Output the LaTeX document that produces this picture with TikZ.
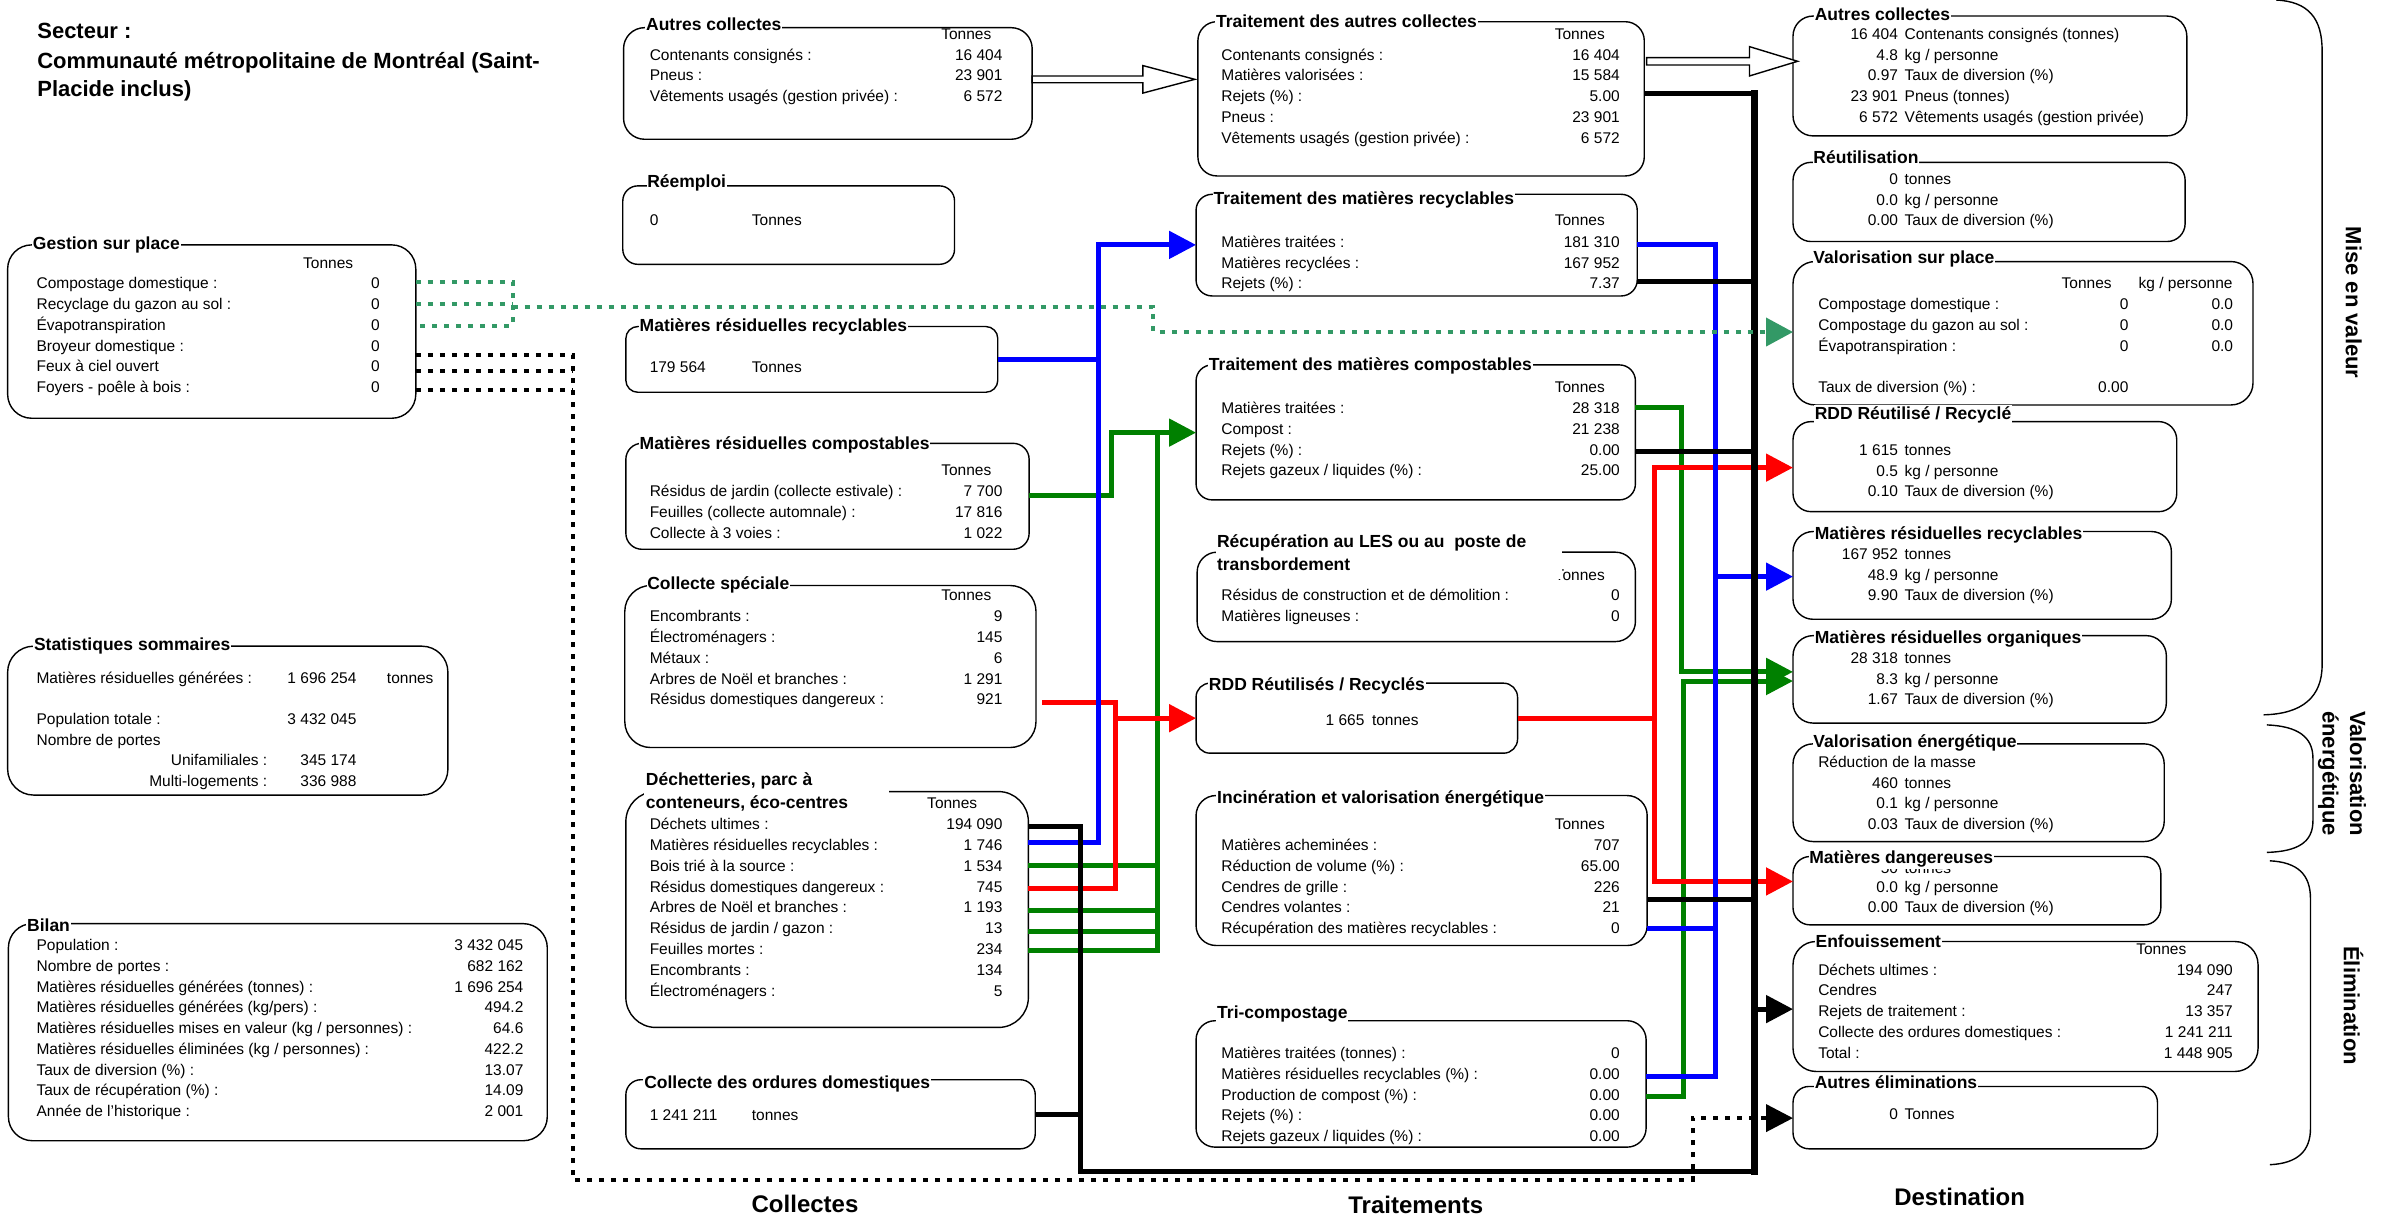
\documentclass[tikz,border=0pt]{standalone}
\usepackage{fontspec}
\setmainfont{Liberation Sans}
\usetikzlibrary{arrows.meta,calc,fit}
\newcommand{\bodyfont}{\fontsize{15.5}{19}\selectfont}
\newcommand{\ttlfont}{\fontsize{17.5}{22}\selectfont\bfseries}
\newcommand{\sidefont}{\fontsize{22}{27.5}\selectfont\bfseries}
\newcommand{\colfont}{\fontsize{24}{28}\selectfont\bfseries}
\newcommand{\headfont}{\fontsize{22}{29}\selectfont\bfseries}
\definecolor{cblue}{RGB}{0,0,255}
\definecolor{cgreen}{RGB}{0,128,0}
\definecolor{cred}{RGB}{255,0,0}
\definecolor{cdot}{RGB}{51,153,102}
\newcommand{\rw}[6]{\node[tl] (#1l) at (#2,#4) {#5}; \node[tr] (#1v) at (#3,#4) {#6};}
\newcommand{\drow}[4]{\node[tr] (#1v) at (1241.7,#2) {#3}; \node[tl] (#1l) at (1245.8,#2) {#4};}
\begin{document}
\begin{tikzpicture}[x=1.5287pt,y=-1.5287pt,
 bxs/.style={draw=black, line width=1.4pt, inner sep=0pt, outer sep=0pt},
 tl/.style={anchor=mid west, inner sep=0pt, font=\bodyfont},
 tr/.style={anchor=mid east, inner sep=0pt, font=\bodyfont},
 tc/.style={anchor=mid, inner sep=0pt, font=\bodyfont},
 ttl/.style={anchor=mid west, inner xsep=0.8pt, inner ysep=1.5pt, fill=white, font=\ttlfont},
 ttn/.style={anchor=mid west, inner sep=0pt, font=\ttlfont},
 wmask/.style={fill=white, draw=none, inner sep=0pt, outer sep=0pt},
 conn/.style={line width=5pt},
 bll/.style={conn, draw=cblue},
 grl/.style={conn, draw=cgreen},
 rdl/.style={conn, draw=cred},
 bkl/.style={conn, draw=black},
 busl/.style={line width=6.8pt, draw=black, line cap=rect},
 ahd/.style={-{Triangle[length=27pt,width=27pt]}},
 grdot/.style={draw=cdot, line width=4pt, dash pattern=on 5pt off 7pt},
 bkdot/.style={draw=black, line width=4pt, dash pattern=on 5pt off 7pt},
 hollow/.style={draw=black, fill=white, line width=1.4pt, line join=miter},
 brc/.style={draw=black, line width=1.4pt},
 sidelbl/.style={inner sep=0pt, font=\sidefont, rotate=-90},
 collbl/.style={anchor=mid, inner sep=0pt, font=\colfont},
 hdl/.style={anchor=mid west, inner sep=0pt, font=\headfont}]
\fill[white] (0,0) rectangle (1568,801.3);
\useasboundingbox (0,0) rectangle (1568,801.3);

% ---------- boxes ----------
\node[bxs, rounded corners=24pt, fit={(5,160.2) (272,273.6)}] (gsp) {};
\node[bxs, rounded corners=26pt, fit={(5,422.7) (293,520.1)}] (stat) {};
\node[bxs, rounded corners=24pt, fit={(5.5,604.2) (358,746.2)}] (bilan) {};
\node[bxs, rounded corners=21pt, fit={(407.9,18.1) (675.2,91.1)}] (acol) {};
\node[bxs, rounded corners=15pt, fit={(407.4,121.6) (624.4,172.9)}] (reemp) {};
\node[bxs, rounded corners=12pt, fit={(409.4,213.6) (652.7,256.6)}] (mrr) {};
\node[bxs, rounded corners=16pt, fit={(409.4,290) (673.2,359.3)}] (mrc) {};
\node[bxs, rounded corners=26pt, fit={(408.7,383) (677.7,489)}] (cspe) {};
\node[bxs, rounded corners=30pt, fit={(409.4,517.8) (672.7,672.1)}] (dech) {};
\node[bxs, rounded corners=15pt, fit={(409.4,706.3) (677.2,751.5)}] (cod) {};
\node[bxs, rounded corners=19pt, fit={(783.6,14.2) (1075.6,115.1)}] (tac) {};
\node[bxs, rounded corners=16pt, fit={(782.4,127.1) (1071,193.6)}] (tmr) {};
\node[bxs, rounded corners=16pt, fit={(782.4,238.7) (1069.8,327)}] (tmc) {};
\node[bxs, rounded corners=20pt, fit={(783.1,361.2) (1069.8,419.7)}] (les) {};
\node[bxs, rounded corners=14pt, fit={(782.4,446.9) (992.7,492.7)}] (rdd) {};
\node[bxs, rounded corners=20pt, fit={(782.4,520.4) (1077.5,618.5)}] (inc) {};
\node[bxs, rounded corners=19pt, fit={(782.4,667.7) (1076.8,750.4)}] (tri) {};
\node[bxs, rounded corners=20pt, fit={(1172.9,10.5) (1430.5,88.9)}] (dac) {};
\node[bxs, rounded corners=18pt, fit={(1172.9,106.2) (1429.4,158)}] (reut) {};
\node[bxs, rounded corners=22pt, fit={(1172.9,171.1) (1473.8,264.9)}] (vsp) {};
\node[bxs, rounded corners=18pt, fit={(1172.9,275.8) (1423.9,334.7)}] (drdd) {};
\node[bxs, rounded corners=20pt, fit={(1172.9,347.7) (1420.4,405.1)}] (dmrr) {};
\node[bxs, rounded corners=20pt, fit={(1172.9,415.8) (1417.1,473)}] (dmro) {};
\node[bxs, rounded corners=20pt, fit={(1172.9,486.6) (1415.7,550.5)}] (dve) {};
\node[bxs, rounded corners=17pt, fit={(1172.9,560.3) (1413.5,605)}] (dmd) {};
\node[bxs, rounded corners=23pt, fit={(1172.9,615.9) (1477.1,700.9)}] (enf) {};
\node[bxs, rounded corners=16pt, fit={(1172.9,710.7) (1411.3,751.5)}] (aelim) {};

% ---------- braces ----------
\draw[brc] (1488.9,0) .. controls (1510,1) and (1519,12) .. (1519,33) -- (1519,435) .. controls (1519,456) and (1506,467) .. (1480.7,467.6);
\draw[brc] (1482.9,474.2) .. controls (1503,475) and (1513,482) .. (1513,496) -- (1513,537) .. controls (1513,551) and (1503,557) .. (1482.9,557.6);
\draw[brc] (1484.8,563.1) .. controls (1503,564) and (1511.4,572) .. (1511.4,588) -- (1511.4,738) .. controls (1511.4,753) and (1503,761) .. (1484.8,761.9);

% ---------- hollow arrows ----------
\coordinate (h1a) at (acol.east |- 0,51.9);
\coordinate (h1b) at ($(tac.west |- 0,51.9)+(-2,0)$);
\draw[hollow] ($(h1a)+(0,-2.2)$) -- ($(h1b)+(-34,-2.2)$) -- ($(h1b)+(-34,-9)$) -- (h1b) -- ($(h1b)+(-34,9)$) -- ($(h1b)+(-34,2.2)$) -- ($(h1a)+(0,2.2)$) -- cycle;
\coordinate (h2a) at (tac.east |- 0,40.1);
\coordinate (h2b) at ($(dac.west |- 0,40.1)+(3,0)$);
\draw[hollow] ($(h2a)+(1.5,-2.4)$) -- ($(h2b)+(-31.5,-2.4)$) -- ($(h2b)+(-31.5,-9.6)$) -- (h2b) -- ($(h2b)+(-31.5,9.6)$) -- ($(h2b)+(-31.5,2.4)$) -- ($(h2a)+(1.5,2.4)$) -- cycle;

% ---------- green connectors ----------
\draw[grl,ahd] (mrc.east |- 0,324.4) -- (727.3,324.4) -- (727.3,283) -- (tmc.west |- 0,283);
\draw[grl] (dech.east |- 0,621.7) -- (757.3,621.7) -- (757.3,283);
\foreach \yy in {566.4,595.6,609.5} \draw[grl] (dech.east |- 0,\yy) -- (757.3,\yy);
\draw[grl,ahd] (tmc.east |- 0,266.4) -- (1100.2,266.4) -- (1100.2,439.5) -- (dmro.west |- 0,439.5);
\draw[grl,ahd] (tri.east |- 0,717.2) -- (1101.4,717.2) -- (1101.4,445.5) -- (dmro.west |- 0,445.5);

% ---------- red connectors ----------
\coordinate (rs) at ($(cspe.east |- 0,459.6)+(3.7,0)$);
\draw[rdl] (dech.east |- 0,581.5) -- (730,581.5) -- (730,459.6) -- (rs);
\draw[rdl,ahd] (730,469.8) -- (rdd.west |- 0,469.8);
\draw[rdl,ahd] (rdd.east |- 0,469.8) -- (1082.6,469.8) -- (1082.6,305.9) -- (drdd.west |- 0,305.9);
\draw[rdl,ahd] (1082.6,469.8) -- (1082.6,576.6) -- (dmd.west |- 0,576.6);

% ---------- blue connectors ----------
\draw[bll] (mrr.east |- 0,235.4) -- (718.5,235.4);
\draw[bll,ahd] (dech.east |- 0,551.1) -- (718.5,551.1) -- (718.5,160.2) -- (tmr.west |- 0,160.2);
\draw[bll] (tmr.east |- 0,160.2) -- (1122.4,160.2) -- (1122.4,704) -- (tri.east |- 0,704);
\draw[bll] (inc.east |- 0,607.1) -- (1122.4,607.1);
\draw[bll,ahd] (1122.4,377.2) -- (dmrr.west |- 0,377.2);

% ---------- black connectors ----------
\draw[bkl] (tac.east |- 0,61) -- (1147.7,61);
\draw[bkl] (tmr.east |- 0,184.2) -- (1147.7,184.2);
\draw[bkl] (tmc.east |- 0,295.4) -- (1149.5,295.4);
\draw[bkl] (inc.east |- 0,588.2) -- (1147.7,588.2);
\draw[bkl] (dech.east |- 0,540.4) -- (706.7,540.4) -- (706.7,766.3) -- (1147.7,766.3);
\draw[bkl] (cod.east |- 0,729.2) -- (706.7,729.2);
\draw[busl] (1147.7,61) -- (1147.7,766.3);
\draw[bkl,ahd] (1147.7,660.1) -- (enf.west |- 0,660.1);

% ---------- dotted connectors ----------
\draw[grdot] (gsp.east |- 0,184.5) -- (335.3,184.5) -- (335.3,213) -- (gsp.east |- 0,213);
\draw[grdot] (gsp.east |- 0,199) -- (335.3,199);
\draw[grdot,-{Triangle[length=27pt,width=28pt]}] (335.3,201) -- (754.5,201) -- (754.5,217.2) -- (vsp.west |- 0,217.2);
\draw[bkdot] (gsp.east |- 0,242.4) -- (374.6,242.4);
\draw[bkdot] (gsp.east |- 0,255) -- (374.6,255);
\draw[bkdot,ahd] (gsp.east |- 0,232.2) -- (374.6,232.2) -- (374.6,771.7) -- (1107.2,771.7) -- (1107.2,731.4) -- (aelim.west |- 0,731.4);

% ---------- header ----------
\node[hdl] (sec1) at (24.3,23.5) {Secteur :};
\node[hdl] (sec2) at (24.3,42.9) {Communauté métropolitaine de Montréal (Saint-};
\node[hdl] (sec3) at (24.3,61.6) {Placide inclus)};

% ---------- Gestion sur place ----------
\node[tc] (gsph) at (214.7,173.8) {Tonnes};
\rw{gsp1}{23.8}{248.5}{186.8}{Compostage domestique :}{0}
\rw{gsp2}{23.8}{248.5}{200.6}{Recyclage du gazon au sol :}{0}
\rw{gsp3}{23.8}{248.5}{214.3}{Évapotranspiration}{0}
\rw{gsp4}{23.8}{248.5}{228}{Broyeur domestique :}{0}
\rw{gsp5}{23.8}{248.5}{241.6}{Feux à ciel ouvert}{0}
\rw{gsp6}{23.8}{248.5}{255.1}{Foyers - poêle à bois :}{0}
\node[ttl] (gspt) at (20.9,161.5) {Gestion sur place};

% ---------- Statistiques ----------
\rw{st1}{23.8}{233.3}{445.5}{Matières résiduelles générées :}{1 696 254}
\node[tl] (st1u) at (253,445.5) {tonnes};
\rw{st2}{23.8}{233.3}{472.1}{Population totale :}{3 432 045}
\node[tl] (st3l) at (23.8,485.7) {Nombre de portes};
\node[tr] (st4l) at (175,499.1) {Unifamiliales :};
\node[tr] (st4v) at (233.3,499.1) {345 174};
\node[tr] (st5l) at (175,512.7) {Multi-logements :};
\node[tr] (st5v) at (233.3,512.7) {336 988};
\node[ttl] (statt) at (21.6,424) {Statistiques sommaires};

% ---------- Bilan ----------
\rw{bi1}{23.8}{342.5}{620.3}{Population :}{3 432 045}
\rw{bi2}{23.8}{342.5}{633.9}{Nombre de portes :}{682 162}
\rw{bi3}{23.8}{342.5}{647.8}{Matières résiduelles générées (tonnes) :}{1 696 254}
\rw{bi4}{23.8}{342.5}{660.9}{Matières résiduelles générées (kg/pers) :}{494.2}
\rw{bi5}{23.8}{342.5}{674.4}{Matières résiduelles mises en valeur (kg / personnes) :}{64.6}
\rw{bi6}{23.8}{342.5}{688}{Matières résiduelles éliminées (kg / personnes) :}{422.2}
\rw{bi7}{23.8}{342.5}{701.6}{Taux de diversion (\%) :}{13.07}
\rw{bi8}{23.8}{342.5}{715.2}{Taux de récupération (\%) :}{14.09}
\rw{bi9}{23.8}{342.5}{728.3}{Année de l'historique :}{2 001}
\node[ttl] (bilant) at (17.1,607.5) {Bilan};

% ---------- Collectes ----------
\node[tc] (acolh) at (632.1,24) {Tonnes};
\rw{ac1}{424.9}{655.9}{37.7}{Contenants consignés :}{16 404}
\rw{ac2}{424.9}{655.9}{51.2}{Pneus :}{23 901}
\rw{ac3}{424.9}{655.9}{64.7}{Vêtements usagés (gestion privée) :}{6 572}
\node[ttl] (acolt) at (422,18.4) {Autres collectes};

\node[tl] (reempv) at (424.9,146) {0};
\node[tl] (reempu) at (491.7,146) {Tonnes};
\node[ttl] (reempt) at (422.8,121) {Réemploi};

\node[tl] (mrrv) at (424.9,242) {179 564};
\node[tl] (mrru) at (491.7,242) {Tonnes};
\node[ttl] (mrrt) at (417.8,215) {Matières résiduelles recyclables};

\node[tc] (mrch) at (632.1,309.6) {Tonnes};
\rw{mc1}{424.9}{655.9}{323.1}{Résidus de jardin (collecte estivale) :}{7 700}
\rw{mc2}{424.9}{655.9}{336.8}{Feuilles (collecte automnale) :}{17 816}
\rw{mc3}{424.9}{655.9}{350.3}{Collecte à 3 voies :}{1 022}
\node[ttl] (mrct) at (417.8,292) {Matières résiduelles compostables};

\node[tc] (csph) at (632.1,390.9) {Tonnes};
\rw{cs1}{424.9}{655.9}{404.8}{Encombrants :}{9}
\rw{cs2}{424.9}{655.9}{418.6}{Électroménagers :}{145}
\rw{cs3}{424.9}{655.9}{432.1}{Métaux :}{6}
\rw{cs4}{424.9}{655.9}{445.8}{Arbres de Noël et branches :}{1 291}
\rw{cs5}{424.9}{655.9}{459.4}{Résidus domestiques dangereux :}{921}
\node[ttl] (cspt) at (422.8,384) {Collecte spéciale};

\node[tc] (dechh) at (622.9,527.2) {Tonnes};
\rw{de1}{424.9}{655.9}{540.6}{Déchets ultimes :}{194 090}
\rw{de2}{424.9}{655.9}{554.4}{Matières résiduelles recyclables :}{1 746}
\rw{de3}{424.9}{655.9}{568.3}{Bois trié à la source :}{1 534}
\rw{de4}{424.9}{655.9}{582.1}{Résidus domestiques dangereux :}{745}
\rw{de5}{424.9}{655.9}{595.1}{Arbres de Noël et branches :}{1 193}
\rw{de6}{424.9}{655.9}{608.9}{Résidus de jardin / gazon :}{13}
\rw{de7}{424.9}{655.9}{622.6}{Feuilles mortes :}{234}
\rw{de8}{424.9}{655.9}{636.1}{Encombrants :}{134}
\rw{de9}{424.9}{655.9}{649.9}{Électroménagers :}{5}
\node[wmask, fit={(421.5,502) (581.8,534)}] (dechm) {};
\node[ttn] (decht1) at (422.4,512.2) {Déchetteries, parc à};
\node[ttn] (decht2) at (422.4,526.9) {conteneurs, éco-centres};

\node[tl] (codv) at (424.9,731) {1 241 211};
\node[tl] (codu) at (491.7,731) {tonnes};
\node[ttl] (codt) at (420.8,710.6) {Collecte des ordures domestiques};

% ---------- Traitements ----------
\node[tc] (tach) at (1033.4,24) {Tonnes};
\rw{ta1}{798.8}{1059.7}{37.7}{Contenants consignés :}{16 404}
\rw{ta2}{798.8}{1059.7}{51.2}{Matières valorisées :}{15 584}
\rw{ta3}{798.8}{1059.7}{64.7}{Rejets (\%) :}{5.00}
\rw{ta4}{798.8}{1059.7}{78.5}{Pneus :}{23 901}
\rw{ta5}{798.8}{1059.7}{92}{Vêtements usagés (gestion privée) :}{6 572}
\node[ttl] (tact) at (794.9,16.3) {Traitement des autres collectes};

\node[tc] (tmrh) at (1033.4,146) {Tonnes};
\rw{tr1}{798.8}{1059.7}{160.2}{Matières traitées :}{181 310}
\rw{tr2}{798.8}{1059.7}{173.8}{Matières recyclées :}{167 952}
\rw{tr3}{798.8}{1059.7}{186.8}{Rejets (\%) :}{7.37}
\node[ttl] (tmrt) at (793.2,131.8) {Traitement des matières recyclables};

\node[tc] (tmch) at (1033.4,255) {Tonnes};
\rw{tm1}{798.8}{1059.7}{268.6}{Matières traitées :}{28 318}
\rw{tm2}{798.8}{1059.7}{282.3}{Compost :}{21 238}
\rw{tm3}{798.8}{1059.7}{296}{Rejets (\%) :}{0.00}
\rw{tm4}{798.8}{1059.7}{309.6}{Rejets gazeux / liquides (\%) :}{25.00}
\node[ttl] (tmct) at (790.2,240.8) {Traitement des matières compostables};

\node[tr] (lesh) at (1049.9,377.8) {Tonnes};
\rw{le1}{798.8}{1059.7}{390.9}{Résidus de construction et de démolition :}{0}
\rw{le2}{798.8}{1059.7}{404.8}{Matières ligneuses :}{0}
\node[wmask, fit={(795.4,347) (1021.9,378.8)}] (lesm) {};
\node[ttn] (lest1) at (796,356.4) {Récupération au LES ou au~ poste de};
\node[ttn] (lest2) at (796,371.2) {transbordement};

\node[tr] (rddv) at (892.7,472.7) {1 665};
\node[tl] (rddu) at (897.4,472.7) {tonnes};
\node[ttl] (rddt) at (790.2,450) {RDD Réutilisés / Recyclés};

\node[tc] (inch) at (1033.4,540.6) {Tonnes};
\rw{in1}{798.8}{1059.7}{554.4}{Matières acheminées :}{707}
\rw{in2}{798.8}{1059.7}{568.3}{Réduction de volume (\%) :}{65.00}
\rw{in3}{798.8}{1059.7}{582.1}{Cendres de grille :}{226}
\rw{in4}{798.8}{1059.7}{595.1}{Cendres volantes :}{21}
\rw{in5}{798.8}{1059.7}{608.9}{Récupération des matières recyclables :}{0}
\node[ttl] (inct) at (795.6,523.8) {Incinération et valorisation énergétique};

\rw{tc1}{798.8}{1059.7}{690.6}{Matières traitées (tonnes) :}{0}
\rw{tc2}{798.8}{1059.7}{704.2}{Matières résiduelles recyclables (\%) :}{0.00}
\rw{tc3}{798.8}{1059.7}{717.9}{Production de compost (\%) :}{0.00}
\rw{tc4}{798.8}{1059.7}{731}{Rejets (\%) :}{0.00}
\rw{tc5}{798.8}{1059.7}{744.9}{Rejets gazeux / liquides (\%) :}{0.00}
\node[ttl] (trit) at (795.6,664.8) {Tri-compostage};

% ---------- Destination ----------
\drow{da1}{24}{16 404}{Contenants consignés (tonnes)}
\drow{da2}{37.7}{4.8}{kg / personne}
\drow{da3}{51.2}{0.97}{Taux de diversion (\%)}
\drow{da4}{64.7}{23 901}{Pneus (tonnes)}
\drow{da5}{78.5}{6 572}{Vêtements usagés (gestion privée)}
\node[ttl] (dact) at (1186.5,11.5) {Autres collectes};

\drow{ru1}{118.8}{0}{tonnes}
\drow{ru2}{132.5}{0.0}{kg / personne}
\drow{ru3}{146.1}{0.00}{Taux de diversion (\%)}
\node[ttl] (reutt) at (1185.6,105) {Réutilisation};

\node[tc] (vsph1) at (1365,187) {Tonnes};
\node[tc] (vsph2) at (1429.7,187) {kg / personne};
\rw{vs1}{1189.3}{1392.4}{200.6}{Compostage domestique :}{0}
\rw{vs2}{1189.3}{1392.4}{214.7}{Compostage du gazon au sol :}{0}
\rw{vs3}{1189.3}{1392.4}{228.5}{Évapotranspiration :}{0}
\node[tr] (vs1k) at (1460.9,200.6) {0.0};
\node[tr] (vs2k) at (1460.9,214.7) {0.0};
\node[tr] (vs3k) at (1460.9,228.5) {0.0};
\rw{vs4}{1189.3}{1392.4}{255}{Taux de diversion (\%) :}{0.00}
\node[ttl] (vspt) at (1185.6,170.5) {Valorisation sur place};

\drow{dr1}{296}{1 615}{tonnes}
\drow{dr2}{310}{0.5}{kg / personne}
\drow{dr3}{323.1}{0.10}{Taux de diversion (\%)}
\node[ttl] (drddt) at (1186.5,272.4) {RDD Réutilisé / Recyclé};

\drow{dm1}{364.1}{167 952}{tonnes}
\drow{dm2}{377.8}{48.9}{kg / personne}
\drow{dm3}{391.3}{9.90}{Taux de diversion (\%)}
\node[ttl] (dmrrt) at (1186.5,351.5) {Matières résiduelles recyclables};

\drow{do1}{432.1}{28 318}{tonnes}
\drow{do2}{445.8}{8.3}{kg / personne}
\drow{do3}{459.1}{1.67}{Taux de diversion (\%)}
\node[ttl] (dmrot) at (1186.5,419.5) {Matières résiduelles organiques};

\node[tl] (dve0) at (1189.3,500.3) {Réduction de la masse};
\drow{dv1}{513.9}{460}{tonnes}
\drow{dv2}{527.2}{0.1}{kg / personne}
\drow{dv3}{540.6}{0.03}{Taux de diversion (\%)}
\node[ttl] (dvet) at (1185.6,487.5) {Valorisation énergétique};

\drow{dd1}{569.5}{50}{tonnes}
\drow{dd2}{582}{0.0}{kg / personne}
\drow{dd3}{595.1}{0.00}{Taux de diversion (\%)}
\node[ttl] (dmdt) at (1182.9,563) {Matières dangereuses};

\node[tc] (enfh) at (1413.8,622.4) {Tonnes};
\rw{en1}{1189.3}{1460.7}{636.1}{Déchets ultimes :}{194 090}
\rw{en2}{1189.3}{1460.7}{649.7}{Cendres}{247}
\rw{en3}{1189.3}{1460.7}{663.2}{Rejets de traitement :}{13 357}
\rw{en4}{1189.3}{1460.7}{676.9}{Collecte des ordures domestiques :}{1 241 211}
\rw{en5}{1189.3}{1460.7}{690.4}{Total :}{1 448 905}
\node[ttl] (enft) at (1187,618) {Enfouissement};

\drow{ae1}{730.7}{0}{Tonnes}
\node[ttl] (aelimt) at (1186.5,710.6) {Autres éliminations};

% ---------- side and column labels ----------
\node[sidelbl] (mev) at (1539.6,198) {Mise en valeur};
\node[sidelbl, align=center] (vale) at (1532,506) {Valorisation\\énergétique};
\node[sidelbl] (elim) at (1539.6,657.8) {Élimination};
\node[collbl] (lcol) at (526.6,791.4) {Collectes};
\node[collbl] (ltra) at (926.1,792.4) {Traitements};
\node[collbl] (ldst) at (1281.9,787) {Destination};
\end{tikzpicture}
\end{document}
